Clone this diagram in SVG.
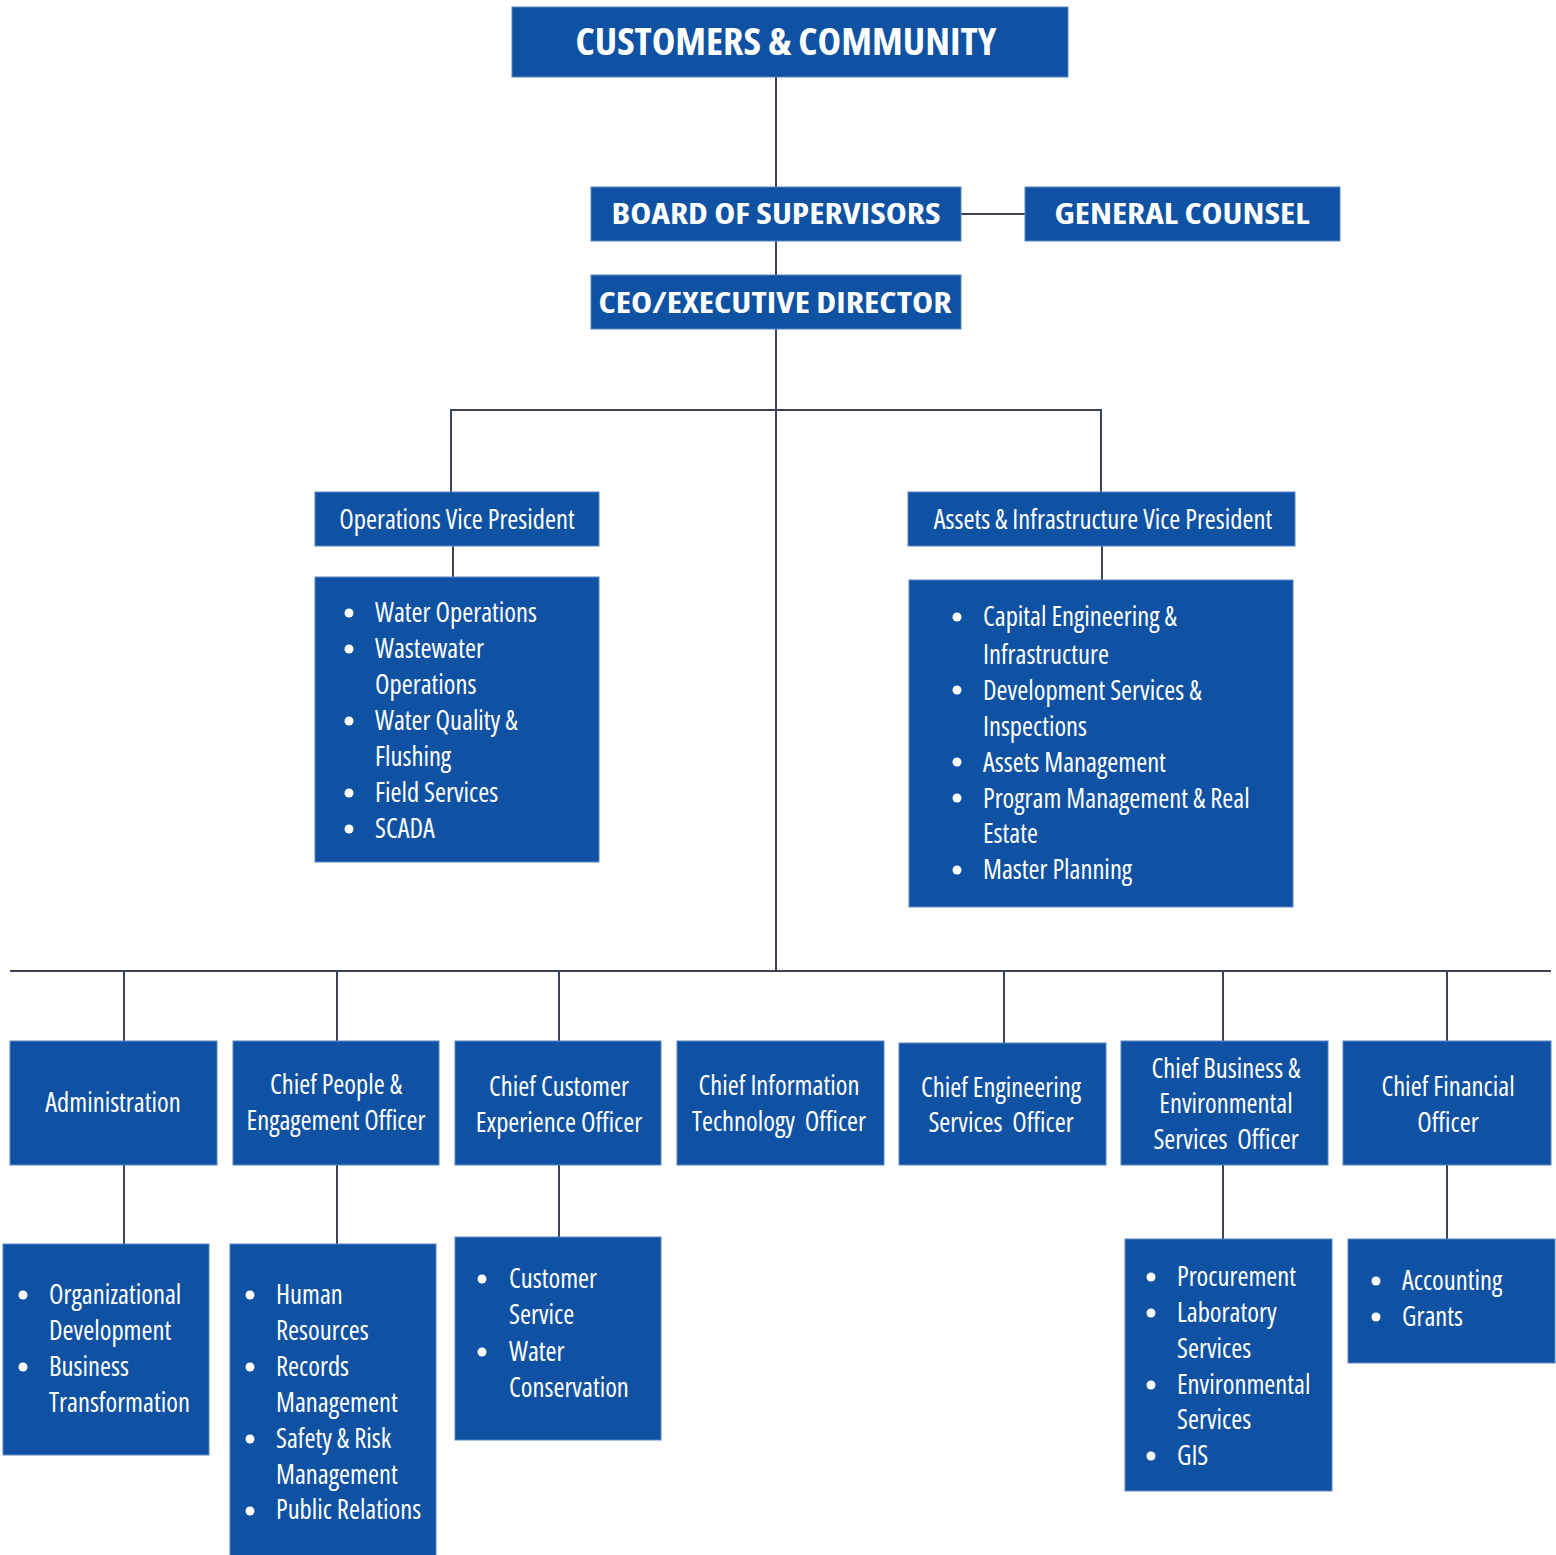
<svg xmlns="http://www.w3.org/2000/svg" width="1556" height="1555" viewBox="0 0 1556 1555">
<style>
.box{fill:#0F52A3;stroke:#5b86c4;stroke-width:1}
.t{fill:#fff;font-family:"Open Sans","Liberation Sans",sans-serif;font-stretch:75%;font-size:26.6px;white-space:pre}
.h{fill:#fff;font-family:"Open Sans","Liberation Sans",sans-serif;font-stretch:87.5%;font-weight:700}
.c{text-anchor:middle}
.ln{stroke:#3d4257;stroke-width:2;fill:none}
.b{fill:#fff}
</style>
<rect width="1556" height="1555" fill="#fff"/>
<g id="connectors" class="ln">
<path d="M776 77V187M776 241V275M776 329V971M961 214H1025"/>
<path d="M451 492V410H1101V492M453 546V577M1102 546V580"/>
<path d="M10 971H1551M124 971V1041M337 971V1041M559 971V1041M1004 971V1043M1223 971V1041M1447 971V1041"/>
<path d="M124 1165V1244M337 1165V1244M559 1165V1237M1223 1165V1239M1447 1165V1239"/>
</g>
<g id="customers"><rect class="box" x="512" y="7" width="556" height="70"/><text class="h c" x="786" y="55" font-size="38" textLength="421" lengthAdjust="spacingAndGlyphs">CUSTOMERS &amp; COMMUNITY</text></g>
<g id="board"><rect class="box" x="591" y="187" width="370" height="54"/><text class="h c" x="776" y="224" font-size="29" textLength="329" lengthAdjust="spacingAndGlyphs">BOARD OF SUPERVISORS</text></g>
<g id="counsel"><rect class="box" x="1025" y="187" width="315" height="54"/><text class="h c" x="1182" y="224" font-size="29" textLength="255" lengthAdjust="spacingAndGlyphs">GENERAL COUNSEL</text></g>
<g id="ceo"><rect class="box" x="591" y="275" width="370" height="54"/><text class="h c" x="775" y="313" font-size="29" textLength="353" lengthAdjust="spacingAndGlyphs">CEO/EXECUTIVE DIRECTOR</text></g>
<g id="opsvp"><rect class="box" x="315" y="492" width="284" height="54"/><text class="t c" x="457" y="529">Operations Vice President</text></g>
<g id="opslist"><rect class="box" x="315" y="577" width="284" height="285"/>
<circle class="b" cx="349" cy="613" r="4.5"/><circle class="b" cx="349" cy="649" r="4.5"/><circle class="b" cx="349" cy="721" r="4.5"/><circle class="b" cx="349" cy="793" r="4.5"/><circle class="b" cx="349" cy="829" r="4.5"/>
<text class="t" x="375" y="622">Water Operations</text><text class="t" x="375" y="658">Wastewater</text><text class="t" x="375" y="694">Operations</text><text class="t" x="375" y="730">Water Quality &amp;</text><text class="t" x="375" y="766">Flushing</text><text class="t" x="375" y="802">Field Services</text><text class="t" x="375" y="838">SCADA</text>
</g>
<g id="assetsvp"><rect class="box" x="908" y="492" width="387" height="54"/><text class="t c" x="1103" y="529">Assets &amp; Infrastructure Vice President</text></g>
<g id="assetslist"><rect class="box" x="909" y="580" width="384" height="327"/>
<circle class="b" cx="957" cy="617" r="4.5"/><circle class="b" cx="957" cy="690" r="4.5"/><circle class="b" cx="957" cy="762" r="4.5"/><circle class="b" cx="957" cy="798" r="4.5"/><circle class="b" cx="957" cy="870" r="4.5"/>
<text class="t" x="983" y="626">Capital Engineering &amp;</text><text class="t" x="983" y="664">Infrastructure</text><text class="t" x="983" y="700">Development Services &amp;</text><text class="t" x="983" y="736">Inspections</text><text class="t" x="983" y="772">Assets Management</text><text class="t" x="983" y="808">Program Management &amp; Real</text><text class="t" x="983" y="843">Estate</text><text class="t" x="983" y="879">Master Planning</text>
</g>
<g id="admin"><rect class="box" x="10" y="1041" width="207" height="124"/><text class="t c" x="113" y="1112">Administration</text></g>
<g id="people"><rect class="box" x="233" y="1041" width="206" height="124"/><text class="t c" x="336" y="1094">Chief People &amp;</text><text class="t c" x="336" y="1130">Engagement Officer</text></g>
<g id="ccx"><rect class="box" x="455" y="1041" width="206" height="124"/><text class="t c" x="559" y="1096">Chief Customer</text><text class="t c" x="559" y="1132">Experience Officer</text></g>
<g id="cit"><rect class="box" x="677" y="1041" width="207" height="124"/><text class="t c" x="779" y="1095">Chief Information</text><text class="t c" x="779" y="1131">Technology  Officer</text></g>
<g id="ces"><rect class="box" x="899" y="1043" width="207" height="122"/><text class="t c" x="1001" y="1097">Chief Engineering</text><text class="t c" x="1001" y="1132">Services  Officer</text></g>
<g id="cbes"><rect class="box" x="1121" y="1041" width="207" height="124"/><text class="t c" x="1226" y="1078">Chief Business &amp;</text><text class="t c" x="1226" y="1113">Environmental</text><text class="t c" x="1226" y="1149">Services  Officer</text></g>
<g id="cfo"><rect class="box" x="1343" y="1041" width="208" height="124"/><text class="t c" x="1448" y="1096">Chief Financial</text><text class="t c" x="1448" y="1132">Officer</text></g>
<g id="adminlist"><rect class="box" x="3" y="1244" width="206" height="211"/>
<circle class="b" cx="23" cy="1295" r="4.5"/><circle class="b" cx="23" cy="1367" r="4.5"/>
<text class="t" x="49" y="1304">Organizational</text><text class="t" x="49" y="1340">Development</text><text class="t" x="49" y="1376">Business</text><text class="t" x="49" y="1412">Transformation</text>
</g>
<g id="peoplelist"><rect class="box" x="230" y="1244" width="206" height="316"/>
<circle class="b" cx="250" cy="1295" r="4.5"/><circle class="b" cx="250" cy="1367" r="4.5"/><circle class="b" cx="250" cy="1439" r="4.5"/><circle class="b" cx="250" cy="1511" r="4.5"/>
<text class="t" x="276" y="1304">Human</text><text class="t" x="276" y="1340">Resources</text><text class="t" x="276" y="1376">Records</text><text class="t" x="276" y="1412">Management</text><text class="t" x="276" y="1448">Safety &amp; Risk</text><text class="t" x="276" y="1484">Management</text><text class="t" x="276" y="1519">Public Relations</text>
</g>
<g id="ccxlist"><rect class="box" x="455" y="1237" width="206" height="203"/>
<circle class="b" cx="482" cy="1279" r="4.5"/><circle class="b" cx="482" cy="1352" r="4.5"/>
<text class="t" x="509" y="1288">Customer</text><text class="t" x="509" y="1324">Service</text><text class="t" x="509" y="1361">Water</text><text class="t" x="509" y="1397">Conservation</text>
</g>
<g id="cbeslist"><rect class="box" x="1125" y="1239" width="207" height="252"/>
<circle class="b" cx="1151" cy="1277" r="4.5"/><circle class="b" cx="1151" cy="1313" r="4.5"/><circle class="b" cx="1151" cy="1385" r="4.5"/><circle class="b" cx="1151" cy="1456" r="4.5"/>
<text class="t" x="1177" y="1286">Procurement</text><text class="t" x="1177" y="1322">Laboratory</text><text class="t" x="1177" y="1358">Services</text><text class="t" x="1177" y="1394">Environmental</text><text class="t" x="1177" y="1429">Services</text><text class="t" x="1177" y="1465">GIS</text>
</g>
<g id="cfolist"><rect class="box" x="1348" y="1239" width="207" height="124"/>
<circle class="b" cx="1376" cy="1281" r="4.5"/><circle class="b" cx="1376" cy="1317" r="4.5"/>
<text class="t" x="1402" y="1290">Accounting</text><text class="t" x="1402" y="1326">Grants</text>
</g>
</svg>
